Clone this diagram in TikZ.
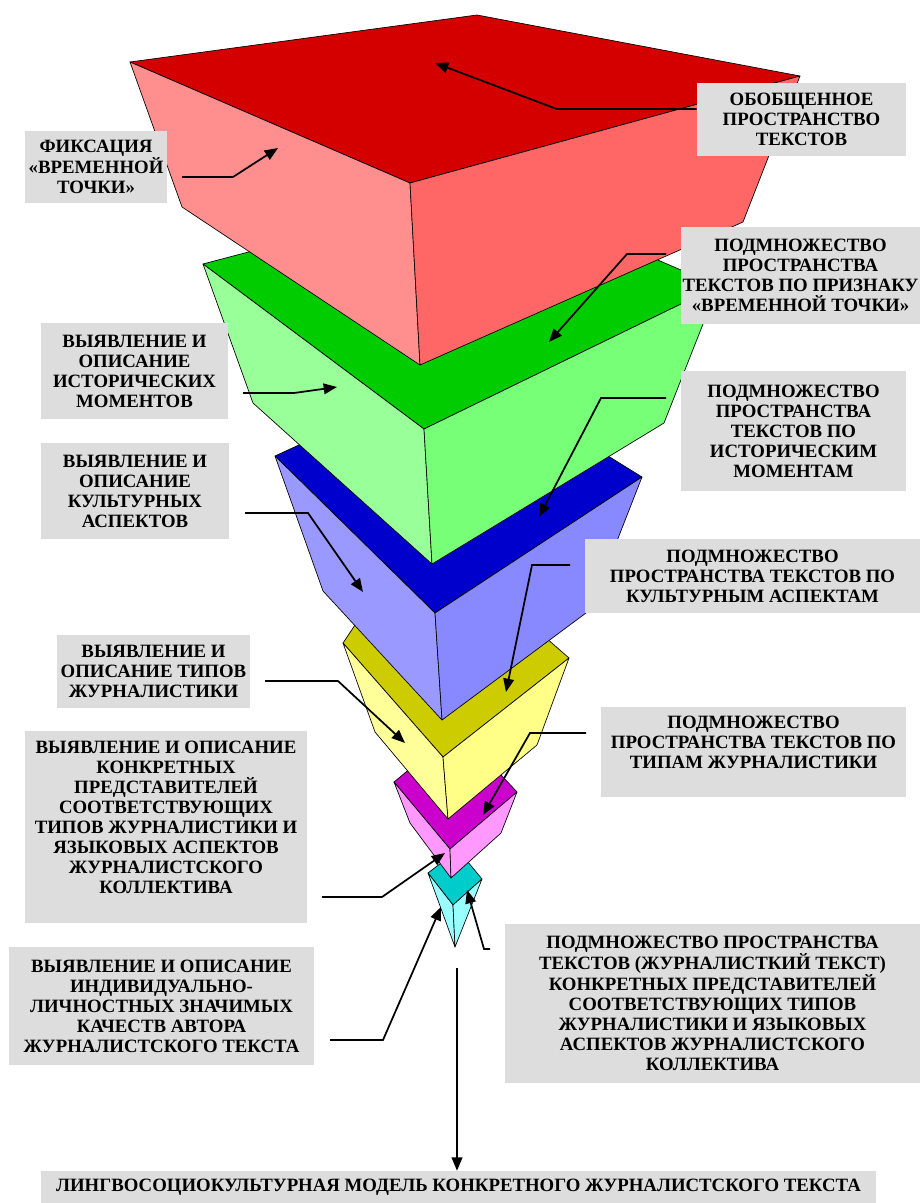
\documentclass[tikz,border=0pt]{standalone}
\usepackage{fontspec}
\setmainfont{Liberation Serif}
\usetikzlibrary{arrows.meta}
\definecolor{redtop}{RGB}{212,0,0}
\definecolor{redleft}{RGB}{255,143,143}
\definecolor{redright}{RGB}{255,102,102}
\definecolor{greentop}{RGB}{0,204,0}
\definecolor{greenleft}{RGB}{153,255,153}
\definecolor{greenright}{RGB}{119,255,119}
\definecolor{bluetop}{RGB}{0,0,204}
\definecolor{blueleft}{RGB}{153,153,255}
\definecolor{blueright}{RGB}{136,136,255}
\definecolor{yellowtop}{RGB}{204,204,0}
\definecolor{yellowleft}{RGB}{255,255,153}
\definecolor{yellowright}{RGB}{255,255,136}
\definecolor{magentatop}{RGB}{204,0,204}
\definecolor{magentaface}{RGB}{255,153,255}
\definecolor{cyantop}{RGB}{0,204,204}
\definecolor{cyanface}{RGB}{153,255,255}
\definecolor{labelgray}{RGB}{221,221,221}
\tikzset{
  face/.style={draw=black, line width=0.5pt, line join=round},
  lbl/.style={fill=labelgray, align=center, inner sep=0pt,
    font=\bfseries\fontsize{14.1}{15}\selectfont},
  pointer/.style={-{Triangle[length=10pt,width=8pt]}, line width=1.3pt},
}

\begin{document}
\begin{tikzpicture}[x=0.75pt, y=-0.75pt]
    \useasboundingbox (0,0) rectangle (920,1203);

    % Cyan pyramid (bottom)
    \filldraw[face, fill=cyantop] (428,873) -- (458,850) -- (482,879) -- (453,905) -- cycle;
    \filldraw[face, fill=cyanface] (428,873) -- (453,905) -- (455,947) -- cycle;
    \filldraw[face, fill=cyanface] (453,905) -- (482,879) -- (455,947) -- cycle;
    \coordinate (apex) at (457,968);

    % Magenta block
    \filldraw[face, fill=magentatop] (394,782) -- (458,729) -- (517,792) -- (450,849) -- cycle;
    \filldraw[face, fill=magentaface] (394,782) -- (450,849) -- (451,878) -- (410,823) -- cycle;
    \filldraw[face, fill=magentaface] (450,849) -- (517,792) -- (501,833) -- (451,878) -- cycle;

    % Yellow block
    \filldraw[face, fill=yellowtop] (343,643) -- (420,528) -- (569,658) -- (443,757) -- cycle;
    \filldraw[face, fill=yellowleft] (343,643) -- (443,757) -- (448,819) -- (375,732) -- cycle;
    \filldraw[face, fill=yellowright] (443,757) -- (569,658) -- (537,745) -- (448,819) -- cycle;

    % Blue block
    \filldraw[face, fill=bluetop] (275,456) -- (466,368) -- (642,477) -- (435,613) -- cycle;
    \filldraw[face, fill=blueleft] (275,456) -- (435,613) -- (442,720) -- (323,591) -- cycle;
    \filldraw[face, fill=blueright] (435,613) -- (642,477) -- (590,610) -- (442,720) -- cycle;

    % Green block
    \filldraw[face, fill=greentop] (203,264) -- (491,188) -- (718,286) -- (424,429) -- cycle;
    \filldraw[face, fill=greenleft] (203,264) -- (424,429) -- (432,564) -- (253,403) -- cycle;
    \filldraw[face, fill=greenright] (424,429) -- (718,286) -- (664,423) -- (432,564) -- cycle;

    % Red block (top)
    \filldraw[face, fill=redtop] (130,62) -- (477,15) -- (800,76) -- (410,183) -- cycle;
    \filldraw[face, fill=redleft] (130,62) -- (410,183) -- (420,365) -- (182,207) -- cycle;
    \filldraw[face, fill=redright] (410,183) -- (800,76) -- (743,222) -- (420,365) -- cycle;

    % Left labels
    \node[lbl, minimum width=106.5pt, minimum height=54pt] (fix) at (96,167)
        {ФИКСАЦИЯ\\«ВРЕМЕННОЙ\\ТОЧКИ»};
    \node[lbl, minimum width=140.25pt, minimum height=72pt] (hist) at (134.5,371)
        {ВЫЯВЛЕНИЕ И\\ОПИСАНИЕ\\ИСТОРИЧЕСКИХ\\МОМЕНТОВ};
    \node[lbl, minimum width=141pt, minimum height=72pt] (cult) at (135,491)
        {ВЫЯВЛЕНИЕ И\\ОПИСАНИЕ\\КУЛЬТУРНЫХ\\АСПЕКТОВ};
    \node[lbl, minimum width=144.75pt, minimum height=54.75pt] (types) at (153.5,671.5)
        {ВЫЯВЛЕНИЕ И\\ОПИСАНИЕ ТИПОВ\\ЖУРНАЛИСТИКИ};
    \node[lbl, minimum width=211.5pt, minimum height=144pt] (reps) at (166,827)
        {ВЫЯВЛЕНИЕ И ОПИСАНИЕ\\КОНКРЕТНЫХ\\ПРЕДСТАВИТЕЛЕЙ\\СООТВЕТСТВУЮЩИХ\\ТИПОВ ЖУРНАЛИСТИКИ И\\ЯЗЫКОВЫХ АСПЕКТОВ\\ЖУРНАЛИСТСКОГО\\КОЛЛЕКТИВА\\~};
    \node[lbl, minimum width=228.75pt, minimum height=88.5pt] (author) at (161.5,1006)
        {ВЫЯВЛЕНИЕ И ОПИСАНИЕ\\ИНДИВИДУАЛЬНО-\\ЛИЧНОСТНЫХ ЗНАЧИМЫХ\\КАЧЕСТВ АВТОРА\\ЖУРНАЛИСТСКОГО ТЕКСТА};

    % Right labels
    \node[lbl, minimum width=156.75pt, minimum height=54.75pt] (general) at (801.5,119.5)
        {ОБОБЩЕННОЕ\\ПРОСТРАНСТВО\\ТЕКСТОВ};
    \node[lbl, minimum width=179.25pt, minimum height=72.75pt] (subtime) at (800.5,275.5)
        {ПОДМНОЖЕСТВО\\ПРОСТРАНСТВА\\ТЕКСТОВ ПО ПРИЗНАКУ\\«ВРЕМЕННОЙ ТОЧКИ»};
    \node[lbl, minimum width=168.75pt, minimum height=90pt] (subhist) at (793.5,431)
        {ПОДМНОЖЕСТВО\\ПРОСТРАНСТВА\\ТЕКСТОВ ПО\\ИСТОРИЧЕСКИМ\\МОМЕНТАМ};
    \node[lbl, minimum width=251.25pt, minimum height=55.5pt] (subcult) at (752.5,576)
        {ПОДМНОЖЕСТВО\\ПРОСТРАНСТВА ТЕКСТОВ ПО\\КУЛЬТУРНЫМ АСПЕКТАМ};
    \node[lbl, minimum width=228.75pt, minimum height=67.5pt] (subtypes) at (753.5,752)
        {ПОДМНОЖЕСТВО\\ПРОСТРАНСТВА ТЕКСТОВ ПО\\ТИПАМ ЖУРНАЛИСТИКИ\\~};
    \node[lbl, minimum width=311.25pt, minimum height=119.25pt] (subreps) at (712.5,1003.5)
        {ПОДМНОЖЕСТВО ПРОСТРАНСТВА\\ТЕКСТОВ (ЖУРНАЛИСТКИЙ ТЕКСТ)\\КОНКРЕТНЫХ ПРЕДСТАВИТЕЛЕЙ\\СООТВЕТСТВУЮЩИХ ТИПОВ\\ЖУРНАЛИСТИКИ И ЯЗЫКОВЫХ\\АСПЕКТОВ ЖУРНАЛИСТСКОГО\\КОЛЛЕКТИВА};

    % Result
    \node[lbl, minimum width=626.25pt, minimum height=24pt] (model) at (458.5,1187)
        {ЛИНГВОСОЦИОКУЛЬТУРНАЯ МОДЕЛЬ КОНКРЕТНОГО ЖУРНАЛИСТСКОГО ТЕКСТА};

    % Pointer ends on the faces
    \coordinate (generalTip) at (435,63);
    \coordinate (fixTip) at (278,148);
    \coordinate (subtimeTip) at (549,342);
    \coordinate (histTip) at (337,387);
    \coordinate (subhistTip) at (539,517);
    \coordinate (cultTip) at (363,592);
    \coordinate (subcultTip) at (506,692);
    \coordinate (typesTip) at (405,743);
    \coordinate (subtypesTip) at (483,815);
    \coordinate (repsTip) at (445,853);
    \coordinate (authorTip) at (441,907);
    \coordinate (subrepsTip) at (467,890);

    % Pointers
    \draw[pointer] (general.west |- 0,109) -- ++(-140,0) -- (generalTip);
    \draw[pointer] (182,177) coordinate (fixFrom) -- ++(51,0) -- (fixTip);
    \draw[pointer] (666,254) coordinate (subtimeFrom) -- ++(-39,0) -- (subtimeTip);
    \draw[pointer] (243,393) coordinate (histFrom) -- ++(51,0) -- (histTip);
    \draw[pointer] (666,398) coordinate (subhistFrom) -- ++(-65,0) -- (subhistTip);
    \draw[pointer] (245,513) coordinate (cultFrom) -- ++(63,0) -- (cultTip);
    \draw[pointer] (570,565) coordinate (subcultFrom) -- ++(-38,0) -- (subcultTip);
    \draw[pointer] (265,681) coordinate (typesFrom) -- ++(73,0) -- (typesTip);
    \draw[pointer] (586,733) coordinate (subtypesFrom) -- ++(-56,0) -- (subtypesTip);
    \draw[pointer] (322,897) coordinate (repsFrom) -- ++(60,0) -- (repsTip);
    \draw[pointer] (330,1040) coordinate (authorFrom) -- ++(53,0) -- (authorTip);
    \draw[pointer] (490,949) coordinate (subrepsFrom) -- ++(-6,0) -- (subrepsTip);
    \draw[pointer] (apex) -- (apex |- model.north);
\end{tikzpicture}
\end{document}
